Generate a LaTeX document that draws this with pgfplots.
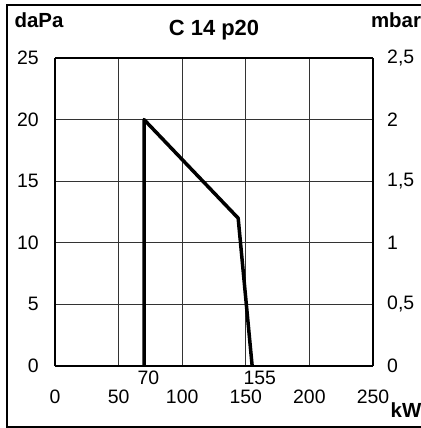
\documentclass[border=0pt]{standalone}
\usepackage{fontspec}
\setmainfont{Liberation Sans}
\usepackage{pgfplots}
\pgfplotsset{compat=1.18}
\newcommand\lblfont{\fontsize{19.5}{21}\selectfont}
\newcommand\unitfont{\bfseries\fontsize{20.5}{22}\selectfont}
\begin{document}
\begin{tikzpicture}
  \useasboundingbox (-55bp,-62bp) rectangle (366bp,366bp);
  % outer frame (right side lies off the picture)
  \draw[line width=1.2bp] (380bp,361bp) -- (-48bp,361bp) -- (-48bp,-61bp) -- (380bp,-61bp);

  \begin{axis}[
    at={(0,0)}, anchor=south west,
    scale only axis,
    width=318bp, height=308bp,
    xmin=0, xmax=250, ymin=0, ymax=25,
    xtick={0,50,100,150,200,250},
    ytick={0,5,10,15,20,25},
    grid=major,
    grid style={line width=0.8bp, black!80},
    axis line style={line width=1.2bp},
    major tick length=0pt,
    axis y line*=left,
    axis x line*=bottom,
    /pgf/number format/assume math mode=true,
    tick label style={font=\lblfont},
    xticklabel style={anchor=north, inner sep=0pt, yshift=-24bp},
    yticklabel style={anchor=east, inner sep=0pt, xshift=-16bp},
    clip=false,
  ]
    % Kennlinie
    \addplot[line width=3.5bp, black, line join=round] coordinates {
      (70,0) (70,20) (144,12) (155,0)
    };
    \node[font=\lblfont, anchor=north, inner sep=0pt] at (axis cs:73.5,0) [yshift=-5bp] {70};
    \node[font=\lblfont, anchor=north, inner sep=0pt] at (axis cs:161,0) [yshift=-5bp] {155};
  \end{axis}

  \begin{axis}[
    at={(0,0)}, anchor=south west,
    scale only axis,
    width=318bp, height=308bp,
    xmin=0, xmax=250, ymin=0, ymax=25,
    axis x line*=top,
    axis y line*=right,
    xtick=\empty,
    ytick={0,5,10,15,20,25},
    yticklabels={0,{0,5},1,{1,5},2,{2,5}},
    axis line style={line width=1.2bp},
    major tick length=0pt,
    tick label style={font=\lblfont},
    yticklabel style={anchor=west, inner sep=0pt, xshift=14bp},
  ]
  \end{axis}

  \node[font=\bfseries\fontsize{22}{24}\selectfont] at (159bp,336bp) {C 14 p20};
  \node[font=\unitfont, anchor=base, inner sep=0pt] at (-16bp,338bp) {daPa};
  \node[font=\unitfont, anchor=base, inner sep=0pt] at (341bp,338bp) {mbar};
  \node[font=\unitfont, anchor=base, inner sep=0pt] at (351bp,-51bp) {kW};
\end{tikzpicture}
\end{document}
